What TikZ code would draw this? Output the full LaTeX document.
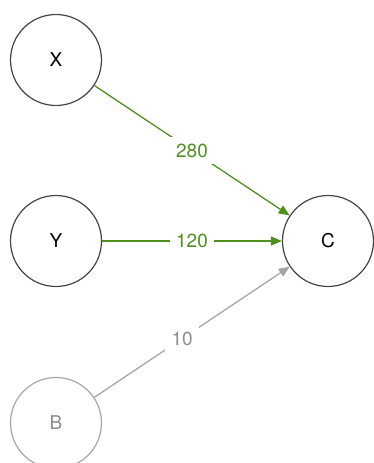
\documentclass[tikz,border=0pt]{standalone}
\usepackage{fontspec}
\setmainfont{TeX Gyre Heros}
\usetikzlibrary{arrows.meta}

\definecolor{flowgreen}{HTML}{4E8F1E}
\definecolor{rimdark}{HTML}{444444}
\definecolor{rimlight}{HTML}{A6A6A6}

\begin{document}
\begin{tikzpicture}[x=1pt,y=-1pt,
  every node/.style={font=\fontsize{19}{21}\selectfont},
  vertex/.style={circle,draw=rimdark,line width=1.2pt,minimum size=91pt,inner sep=0pt},
  flow/.style={draw=flowgreen,line width=1.3pt,-{Triangle[length=11pt,width=9pt]}},
  weight/.style={fill=white,inner sep=6.5pt,text=flowgreen}]
\useasboundingbox (0,0) rectangle (373,463);

      % 结点
      \foreach \n/\y in {X/60,Y/241} {
      	\node[vertex] (\n) at (56,\y) {\n};
      }
      \node[vertex] (C) at (328,241) {C};
      \node[vertex,draw=rimlight,text=rimlight!85!black] (B) at (56,423) {B};

      % 边
      \draw[flow] (X) -- node[weight] (wx) {280} (C);
      \draw[flow] (Y) -- node[weight] (wy) {120} (C);
      \draw[flow,draw=rimlight] (B) -- node[weight,pos=0.45,text=rimlight!85!black] (wb) {10} (C);

\end{tikzpicture}
\end{document}
